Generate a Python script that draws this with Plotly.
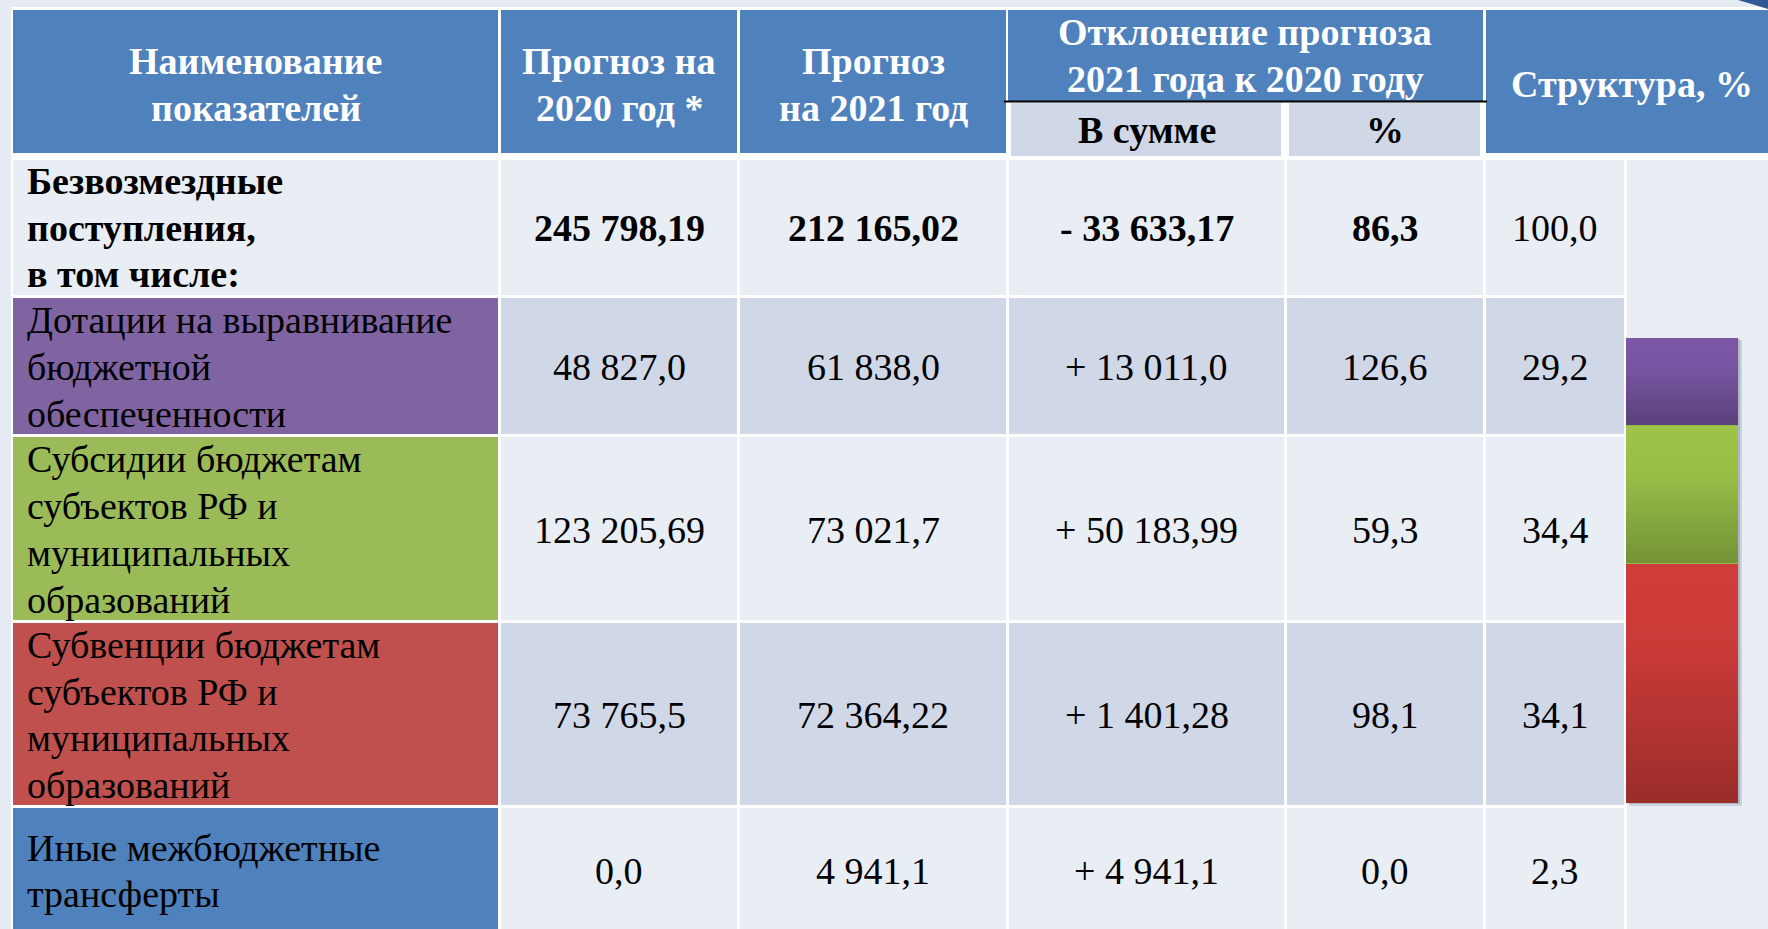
import base64
import plotly.graph_objects as go

# ---------------- data ----------------
header_cols = ["Наименование<br>показателей", "Прогноз на<br>2020 год *", "Прогноз<br>на 2021 год"]
header_dev = "Отклонение прогноза<br>2021 года к 2020 году"
header_dev_sub = ["В сумме", "%"]
header_struct = "Структура, %"

row_labels = [
    "Безвозмездные<br>поступления,<br>в том числе:",
    "Дотации на выравнивание<br>бюджетной<br>обеспеченности",
    "Субсидии бюджетам<br>субъектов РФ и<br>муниципальных<br>образований",
    "Субвенции бюджетам<br>субъектов РФ и<br>муниципальных<br>образований",
    "Иные межбюджетные<br>трансферты",
]
forecast_2020 = ["245 798,19", "48 827,0", "123 205,69", "73 765,5", "0,0"]
forecast_2021 = ["212 165,02", "61 838,0", "73 021,7", "72 364,22", "4 941,1"]
deviation_sum = ["- 33 633,17", "+ 13 011,0", "+ 50 183,99", "+ 1 401,28", "+ 4 941,1"]
deviation_pct = ["86,3", "126,6", "59,3", "98,1", "0,0"]
structure = ["100,0", "29,2", "34,4", "34,1", "2,3"]

# stacked bar (segment shares as drawn in the picture, top to bottom)
bar_names = ["Дотации", "Субсидии", "Субвенции"]
bar_share = [18.8, 29.7, 51.5]

# ---------------- styles / layout ----------------
W, H = 1768, 929
FONT = "'Liberation Serif', 'Times New Roman', Tinos, serif"
FS = 38
LINE = 46.7
BLUE = "#4F81BD"
LIGHT = "#E9EDF4"
DARK = "#D0D8E8"
label_fill = [LIGHT, "#8064A2", "#9BBB59", "#C0504D", BLUE]
value_fill = [LIGHT, DARK, LIGHT, DARK, LIGHT]
bar_colors = ["#7B57A6", "#9DC449", "#D03C39"]

col_x = [(13, 498), (501, 737), (740, 1006), (1009, 1284), (1287, 1483), (1486, 1624)]
row_y = [(160, 295), (298, 434), (437, 620), (623, 805), (808, 940)]
row_center = [227.7, 367.0, 529.5, 715.0, 871.0]
bar_top, bar_bot = 338, 803

shapes = []
annotations = []


def rect(x0, y0, x1, y1, color):
    shapes.append(dict(type="rect", xref="x", yref="y", x0=x0, x1=x1, y0=y0, y1=y1,
                       fillcolor=color, line=dict(width=0), layer="below"))


def text_lines(txt, cx, cy, bold=False, color="black", anchor="center", size=FS):
    lines = txt.split("<br>")
    n = len(lines)
    for i, ln in enumerate(lines):
        y = cy + (i - (n - 1) / 2) * LINE
        annotations.append(dict(
            x=cx, y=y, xref="x", yref="y", text=f"<b>{ln}</b>" if bold else ln,
            showarrow=False, xanchor=anchor, yanchor="middle",
            font=dict(family=FONT, size=size, color=color)))


# background & white grid
rect(0, 0, W, H, "#E6EBF3")
rect(11, 7, W, H, "white")
shapes.append(dict(type="path", xref="x", yref="y", path="M 1738 0 Q 1755 5 1768 9 L 1768 0 Z",
                   fillcolor="#2F5A94", line=dict(width=0), layer="below"))

# header cells
for (x0, x1), txt in zip(col_x[:3], header_cols):
    rect(x0, 10, x1, 153, BLUE)
    text_lines(txt, (x0 + x1) / 2, 84.4, bold=True, color="white")
rect(1008, 10, 1483, 101, BLUE)
text_lines(header_dev, 1245, 55.4, bold=True, color="white")
for (x0, x1), txt in zip(col_x[3:5], header_dev_sub):
    rect(x0 + 2, 103, x1 - 3, 156, DARK)
    text_lines(txt, (x0 + x1) / 2, 130, bold=True)
rect(1486, 10, W, 153, BLUE)
text_lines(header_struct, 1632, 83.7, bold=True, color="white")
shapes.append(dict(type="line", xref="x", yref="y", x0=1004, x1=1487, y0=101.5, y1=101.5,
                   line=dict(color="black", width=2)))

# bar column background + soft shadow
rect(1627, 160, W, H + 10, LIGHT)
rect(1629, bar_top + 2, 1742, bar_bot + 3, "rgba(150,160,180,0.35)")
rect(1628, bar_top + 1, 1740, bar_bot + 1, "rgba(120,130,150,0.35)")

# body
value_cols = [forecast_2020, forecast_2021, deviation_sum, deviation_pct, structure]
for r in range(len(row_labels)):
    y0, y1 = row_y[r]
    cy = row_center[r]
    bold = r == 0
    rect(col_x[0][0], y0, col_x[0][1], y1, label_fill[r])
    text_lines(row_labels[r], 25, cy, bold=bold, anchor="left")
    for c, vals in enumerate(value_cols):
        x0, x1 = col_x[c + 1]
        rect(x0, y0, x1, y1, value_fill[r])
        text_lines(vals[r], (x0 + x1) / 2, cy, bold=bold and c < 4)

fig = go.Figure()
# stacked bar, bottom segment first
for name, val, colr in reversed(list(zip(bar_names, bar_share, bar_colors))):
    fig.add_trace(go.Bar(x=[0], y=[val], name=name, marker=dict(color=colr, line=dict(width=0)),
                         width=1, xaxis="x2", yaxis="y2", hoverinfo="name+y", showlegend=False))

# vertical shading on every bar segment (follows the segment's data extent)
svg = ('<svg xmlns="http://www.w3.org/2000/svg" width="10" height="100" preserveAspectRatio="none">'
       '<defs><linearGradient id="g" x1="0" y1="0" x2="0" y2="1">'
       '<stop offset="0" stop-color="black" stop-opacity="0"/>'
       '<stop offset="0.35" stop-color="black" stop-opacity="0.03"/>'
       '<stop offset="1" stop-color="black" stop-opacity="0.26"/>'
       '</linearGradient></defs><rect width="10" height="100" fill="url(#g)"/></svg>')
shade_src = "data:image/svg+xml;base64," + base64.b64encode(svg.encode()).decode()
images = []
total = sum(bar_share)
top = total
for val in bar_share:
    images.append(dict(source=shade_src, xref="x2", yref="y2", x=-0.5, y=top, sizex=1, sizey=val,
                       xanchor="left", yanchor="top", sizing="stretch", layer="above"))
    top -= val

fig.update_layout(
    width=W, height=H, margin=dict(l=0, r=0, t=0, b=0),
    paper_bgcolor="#E6EBF3", plot_bgcolor="rgba(0,0,0,0)",
    barmode="stack", showlegend=False,
    font=dict(family=FONT),
    xaxis=dict(range=[0, W], domain=[0, 1], visible=False, fixedrange=True),
    yaxis=dict(range=[H, 0], domain=[0, 1], visible=False, fixedrange=True),
    xaxis2=dict(domain=[1626 / W, 1738 / W], range=[-0.5, 0.5], visible=False, anchor="y2", fixedrange=True),
    yaxis2=dict(domain=[1 - bar_bot / H, 1 - bar_top / H], range=[0, total], visible=False, anchor="x2",
                fixedrange=True),
    shapes=shapes, annotations=annotations, images=images,
)
fig.write_html("out.html", config={"displayModeBar": False},
               post_script="document.body.style.margin='0';document.body.style.overflow='hidden';")
